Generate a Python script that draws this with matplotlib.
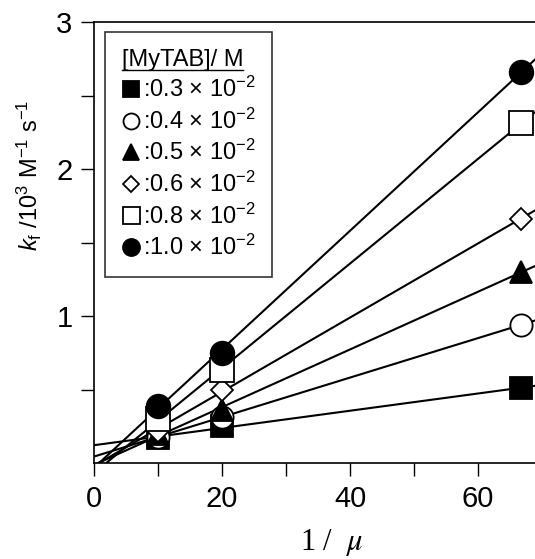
import matplotlib
matplotlib.use("Agg")
import matplotlib.pyplot as plt
import numpy as np

plt.rcParams['font.family'] = ['Liberation Sans', 'DejaVu Sans']
plt.rcParams['mathtext.fontset'] = 'custom'
plt.rcParams['mathtext.rm'] = 'Liberation Sans'
plt.rcParams['mathtext.it'] = 'Liberation Sans:italic'
plt.rcParams['mathtext.default'] = 'regular'

# 1/mu values
inv_mu = [10, 20, 66.7]

# [MyTAB] concentrations (x 10^-2 M)
conc = ["0.3", "0.4", "0.5", "0.6", "0.8", "1.0"]

# k_f / 10^3 M^-1 s^-1
kf_03 = [0.17, 0.25, 0.51]
kf_04 = [0.18, 0.31, 0.94]
kf_05 = [0.20, 0.36, 1.30]
kf_06 = [0.22, 0.50, 1.66]
kf_08 = [0.30, 0.63, 2.31]
kf_10 = [0.39, 0.75, 2.66]

series = [kf_03, kf_04, kf_05, kf_06, kf_08, kf_10]
markers = ['s', 'o', '^', 'D', 's', 'o']
fills = ['black', 'white', 'black', 'white', 'white', 'black']
sizes = [16, 16, 16, 11, 17, 17]

fig = plt.figure(figsize=(5.35, 5.59), dpi=100)
ax = fig.add_axes([94 / 535, 96 / 559, 448 / 535, 441 / 559])

xl = np.array([0, 70])
for i in range(len(series)):
    # straight line fit through each set
    p = np.polyfit(inv_mu, series[i], 1)
    ax.plot(xl, np.polyval(p, xl), color='black', lw=1.5, zorder=2)
for i in range(len(series)):
    ax.plot(inv_mu, series[i], ls='none', marker=markers[i], ms=sizes[i],
            mfc=fills[i], mec='black', mew=1.3, zorder=3 + i,
            label=":" + conc[i] + r" × 10$^{-2}$")

ax.set_xlim(0, 70)
ax.set_ylim(0, 3)
ax.set_xticks([0, 20, 40, 60])
ax.set_xticks([10, 30, 50, 70], minor=True)
ax.set_yticks([1, 2, 3])
ax.set_yticks([0.5, 1.5, 2.5], minor=True)
ax.tick_params(direction='out', length=9.5, width=1, labelsize=21, pad=6)
ax.tick_params(which='minor', direction='out', length=9.5, width=1)
for s in ax.spines.values():
    s.set_linewidth(1.2)

ax.set_ylabel(r"$\mathit{k}_{f}$ /10$^3$ M$^{-1}$ s$^{-1}$", fontsize=17)
ax.yaxis.set_label_coords(-0.112, 0.653)
ax.set_xlabel(r"1 /  $\mathit{\mu}$", fontsize=22, family='Liberation Serif',
              math_fontfamily='stix')
ax.xaxis.set_label_coords(0.53, -0.145)

leg = ax.legend(loc='upper left', bbox_to_anchor=(0.025, 0.977), fontsize=17,
                title="[MyTAB]/ M", title_fontsize=17, frameon=True,
                fancybox=False, edgecolor='black', handlelength=0.8,
                handletextpad=0.1, labelspacing=0.27, borderpad=0.7,
                borderaxespad=0, markerscale=0.72)
leg.get_frame().set_linewidth(1.2)
leg._legend_box.align = 'left'

fig.canvas.draw()
t = leg.get_title()
bb = t.get_window_extent().transformed(fig.transFigure.inverted())
fig.add_artist(plt.Line2D([bb.x0, bb.x1], [bb.y0 + 0.002, bb.y0 + 0.002],
                          color='black', lw=1, transform=fig.transFigure))

fig.savefig("out.png", dpi=100)
